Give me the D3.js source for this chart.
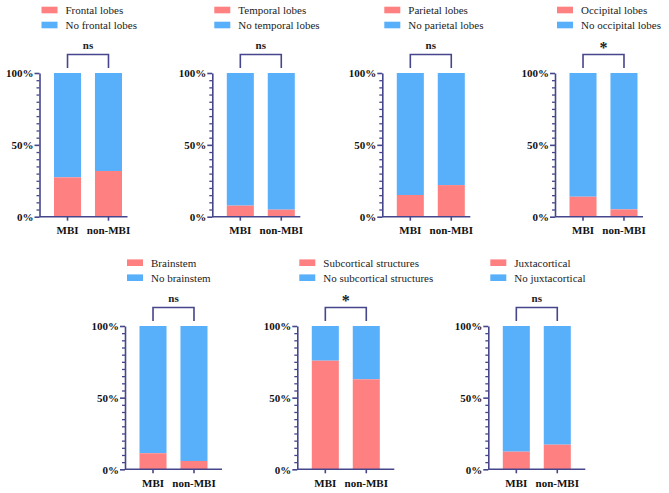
<!DOCTYPE html>
<html>
<head>
<meta charset="utf-8">
<script src="https://cdn.jsdelivr.net/npm/d3@7"></script>
<style>
  body { margin: 0; background: #fff; }
  svg { display: block; }
  svg text { font-family: 'Liberation Serif', 'Times New Roman', Times, serif; }
  .tick-label { font-size: 11px; font-weight: bold; fill: #111; }
  .legend-text { font-size: 11px; fill: #222; }
  .sig { font-weight: bold; fill: #222; }
</style>
</head>
<body>
<svg id="chart" width="669" height="493"></svg>
<script>
// data (percent of patients with lesion in the region)
var groups = ['MBI', 'non-MBI']
var regions = ['Frontal lobes', 'Temporal lobes', 'Parietal lobes', 'Occipital lobes',
  'Brainstem', 'Subcortical structures', 'Juxtacortical']
var absentLabels = ['No frontal lobes', 'No temporal lobes', 'No parietal lobes', 'No occipital lobes',
  'No brainstem', 'No subcortical structures', 'No juxtacortical']
var mbiPct = [27.4, 7.7, 15.1, 13.9, 11.2, 75.8, 12.3]
var nonMbiPct = [31.8, 4.9, 22.0, 5.1, 5.8, 62.8, 17.2]
var significance = ['ns', 'ns', 'ns', '*', 'ns', '*', 'ns']
var yTicks = [0, 50, 100]

var red = '#fe8080'
var blue = '#58b0fa'
var axisColor = '#46468c'
var serif = "'Liberation Serif', 'Times New Roman', Times, serif"

// panel placement: x of the y axis, top/bottom of the plot, length of x axis line
var layout = [
  { x: 39.5, top: 73, bottom: 216.7, len: 88, legendY: 10 },
  { x: 212.3, top: 73, bottom: 216.7, len: 88, legendY: 10 },
  { x: 382.3, top: 73, bottom: 216.7, len: 88, legendY: 10 },
  { x: 555, top: 73, bottom: 216.7, len: 88, legendY: 10 },
  { x: 125, top: 326, bottom: 469.3, len: 97, legendY: 262.7 },
  { x: 297.3, top: 326, bottom: 469.3, len: 97, legendY: 262.7 },
  { x: 488.3, top: 326, bottom: 469.3, len: 97, legendY: 262.7 }
]

var svg = d3.select('#chart')

regions.forEach(function (name, i) {
  var p = layout[i]
  var g = svg.append('g').attr('transform', 'translate(' + p.x + ',0)')

  var x = d3.scaleBand().domain(groups).range([0, 97]).paddingInner(0.34).paddingOuter(0.354)
  var y = d3.scaleLinear().domain([0, 100]).range([p.bottom, p.top])

  var rows = groups.map(function (grp, j) {
    return { group: grp, present: j === 0 ? mbiPct[i] : nonMbiPct[i] }
  })

  // blue part (absent) on top, red part (present) at the bottom
  g.selectAll('.absent').data(rows).enter().append('rect')
    .attr('x', function (d) { return x(d.group) })
    .attr('width', x.bandwidth())
    .attr('y', y(100))
    .attr('height', function (d) { return y(d.present) - y(100) })
    .attr('fill', blue)
  g.selectAll('.present').data(rows).enter().append('rect')
    .attr('x', function (d) { return x(d.group) })
    .attr('width', x.bandwidth())
    .attr('y', function (d) { return y(d.present) })
    .attr('height', function (d) { return y(0) - y(d.present) })
    .attr('fill', red)

  // y axis with minor ticks every 5%
  var minor = d3.range(0, 101, 5).filter(function (v) { return yTicks.indexOf(v) < 0 })
  g.append('g').call(d3.axisLeft(y).tickValues(minor).tickSize(3).tickFormat(''))
    .call(function (a) { a.select('.domain').remove() })
    .selectAll('line').attr('stroke', axisColor).attr('stroke-width', 1.3)
  var yAxis = g.append('g').call(d3.axisLeft(y).tickValues(yTicks).tickSize(5).tickSizeOuter(0)
    .tickFormat(function (d) { return d + '%' }))
  yAxis.select('.domain').attr('stroke', axisColor).attr('stroke-width', 1.6)
  yAxis.selectAll('line').attr('stroke', axisColor).attr('stroke-width', 1.6)
  yAxis.selectAll('text').attr('class', 'tick-label').attr('x', -6).attr('dy', '0.35em')
    .style('font-family', serif)

  // x axis
  g.append('line').attr('x1', 0).attr('x2', p.len).attr('y1', y(0)).attr('y2', y(0))
    .attr('stroke', axisColor).attr('stroke-width', 1.6)
  var xAxis = g.append('g').attr('transform', 'translate(0,' + y(0) + ')')
    .call(d3.axisBottom(x).tickSize(4).tickSizeOuter(0))
  xAxis.select('.domain').remove()
  xAxis.selectAll('line').attr('stroke', axisColor).attr('stroke-width', 1.6)
  xAxis.selectAll('text').attr('class', 'tick-label').attr('y', 10).attr('dy', '0.71em')
    .style('font-family', serif)

  // significance bracket
  var x1 = x(groups[0]) + x.bandwidth() / 2
  var x2 = x(groups[1]) + x.bandwidth() / 2
  var bTop = p.top - 18.5
  var bLeg = p.top - 5
  g.append('path')
    .attr('d', 'M' + x1 + ',' + bLeg + 'V' + bTop + 'H' + x2 + 'V' + bLeg)
    .attr('fill', 'none').attr('stroke', axisColor).attr('stroke-width', 1.6)
  var star = significance[i] === '*'
  g.append('text').attr('class', 'sig')
    .attr('x', (x1 + x2) / 2)
    .attr('y', star ? bTop - 2 : bTop - 6)
    .attr('text-anchor', 'middle')
    .style('font-family', serif)
    .style('font-size', star ? '16px' : '11px')
    .text(significance[i])

  // legend
  var legend = [{ label: name, color: red }, { label: absentLabels[i], color: blue }]
  var lg = g.selectAll('.legend').data(legend).enter().append('g')
    .attr('transform', function (d, k) { return 'translate(2,' + (p.legendY + k * 15) + ')' })
  lg.append('rect').attr('x', 0).attr('y', -3.3).attr('width', 16).attr('height', 6.6)
    .attr('fill', function (d) { return d.color })
  lg.append('text').attr('class', 'legend-text').attr('x', 24).attr('dy', '0.35em')
    .style('font-family', serif)
    .text(function (d) { return d.label })
})
</script>
</body>
</html>
